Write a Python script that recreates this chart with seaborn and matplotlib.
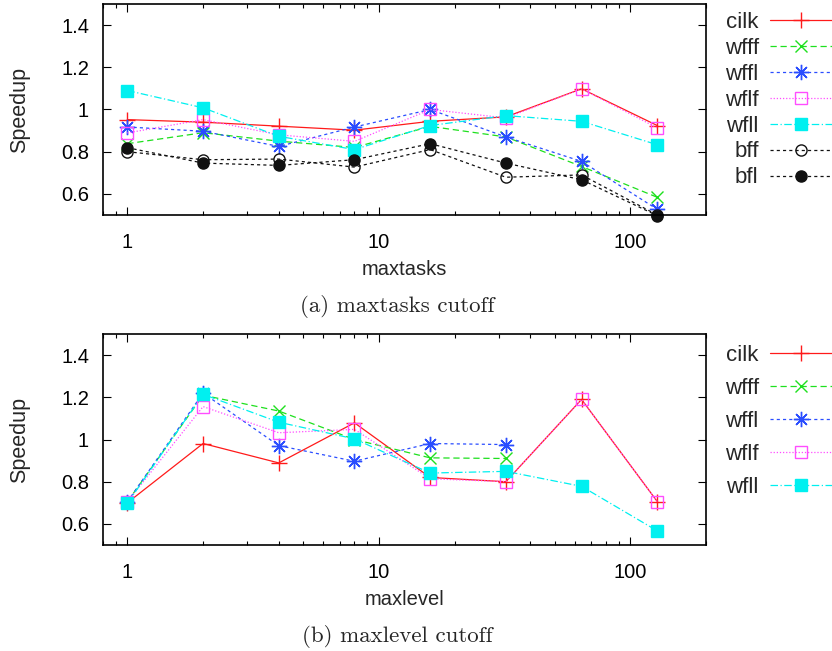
import numpy as np
import pandas as pd
import matplotlib
matplotlib.use("Agg")
import matplotlib.pyplot as plt
import seaborn as sns
from matplotlib.ticker import FixedLocator, LogLocator, NullFormatter

# ---------------- data ----------------
x_vals = [1, 2, 4, 8, 16, 32, 64, 128]

# (a) maxtasks cutoff
a_cilk = [0.952, 0.940, 0.921, 0.902, 0.944, 0.965, 1.098, 0.924]
a_wfff = [0.838, 0.890, 0.850, 0.820, 0.920, 0.870, 0.730, 0.584]
a_wffl = [0.917, 0.897, 0.825, 0.917, 1.000, 0.870, 0.754, 0.527]
a_wflf = [0.889, 0.952, 0.880, 0.849, 1.000, 0.960, 1.098, 0.913]
a_wfll = [1.090, 1.008, 0.873, 0.810, 0.924, 0.971, 0.944, 0.833]
a_bff = [0.800, 0.762, 0.765, 0.727, 0.810, 0.679, 0.690, 0.500]
a_bfl = [0.819, 0.746, 0.735, 0.762, 0.838, 0.746, 0.667, 0.497]

# (b) maxlevel cutoff (None = no measurement)
b_cilk = [0.700, 0.981, 0.889, 1.079, 0.820, 0.800, 1.190, 0.706]
b_wfff = [0.705, 1.210, 1.135, 1.000, 0.913, 0.910, None, None]
b_wffl = [0.705, 1.220, 0.971, 0.897, 0.981, 0.976, None, None]
b_wflf = [0.705, 1.156, 1.032, 1.048, 0.814, 0.800, 1.190, 0.706]
b_wfll = [0.698, 1.214, 1.082, 1.003, 0.841, 0.849, 0.778, 0.567]

y_ticks = [0.6, 0.8, 1.0, 1.2, 1.4]
y_tick_labels = ["0.6", "0.8", "1", "1.2", "1.4"]
x_ticks = [1, 10, 100]
x_tick_labels = ["1", "10", "100"]

# ---------------- styles ----------------
STYLES = {
    "cilk": dict(color="#ff1a1a", marker="+", ls="-", mfc="none", ms=11),
    "wfff": dict(color="#1ee01e", marker="x", ls=(0, (5, 3)), mfc="none", ms=9),
    "wffl": dict(color="#2a4dff", marker=(8, 2, 0), ls=(0, (2.5, 2.5)), mfc="none", ms=11),
    "wflf": dict(color="#ff4dff", marker="s", ls=(0, (1, 1.5)), mfc="none", ms=9),
    "wfll": dict(color="#00f0f0", marker="s", ls=(0, (6, 2, 1, 2)), mfc="#00f0f0", ms=9),
    "bff": dict(color="#111111", marker="o", ls=(0, (2.5, 2.5)), mfc="none", ms=8),
    "bfl": dict(color="#111111", marker="o", ls=(0, (2.5, 2.5)), mfc="#111111", ms=8),
}

FS = 14.5
LEG_FS = 16
SANS = ["Liberation Sans", "DejaVu Sans"]

sns.set_theme(style="white")
plt.rcParams["font.family"] = SANS
plt.rcParams["font.size"] = FS

W, H = 832, 651
fig = plt.figure(figsize=(W / 100, H / 100), dpi=100)


def px_axes(left, top, right, bottom):
    return fig.add_axes([left / W, 1 - bottom / H, (right - left) / W, (bottom - top) / H])


def draw_panel(ax, series, xlabel, legend_spacing, legend_top):
    for name, vals in series:
        st = STYLES[name]
        pts = [(x, v) for x, v in zip(x_vals, vals) if v is not None]
        df = pd.DataFrame(pts, columns=["x", "y"])
        sns.lineplot(data=df, x="x", y="y", ax=ax, label=name,
                     color=st["color"], linestyle=st["ls"], linewidth=0.9,
                     marker=st["marker"], markersize=st["ms"],
                     markerfacecolor=st["mfc"], markeredgecolor=st["color"],
                     markeredgewidth=1.0, clip_on=False, errorbar=None)
    ax.set_xscale("log")
    ax.set_xlim(0.8, 200)
    ax.set_ylim(0.5, 1.5)
    ax.xaxis.set_major_locator(FixedLocator(x_ticks))
    ax.set_xticklabels(x_tick_labels)
    ax.xaxis.set_minor_locator(LogLocator(base=10, subs=np.arange(2, 10)))
    ax.xaxis.set_minor_formatter(NullFormatter())
    ax.yaxis.set_major_locator(FixedLocator(y_ticks))
    ax.set_yticklabels(y_tick_labels)
    ax.tick_params(which="both", direction="in", top=True, right=True,
                   bottom=True, left=True, colors="black", labelsize=FS)
    ax.tick_params(which="major", length=6, width=0.8)
    ax.tick_params(which="minor", length=3, width=0.8)
    ax.tick_params(axis="y", pad=10)
    ax.tick_params(axis="x", pad=13)
    for sp in ax.spines.values():
        sp.set_color("black")
        sp.set_linewidth(1.2)
    ax.set_xlabel(xlabel, fontsize=FS, labelpad=6)
    ax.set_ylabel("Speedup", fontsize=15.5, labelpad=22)
    ax.grid(False)
    leg = ax.legend(loc="upper right", bbox_to_anchor=(1.0, legend_top),
                    bbox_transform=fig.transFigure, markerfirst=False,
                    frameon=False, fontsize=LEG_FS, handlelength=2.8,
                    handletextpad=0.5, labelspacing=legend_spacing,
                    borderpad=0, borderaxespad=0)
    return leg


ax1 = px_axes(103, 4, 706, 215)
draw_panel(ax1, [("cilk", a_cilk), ("wfff", a_wfff), ("wffl", a_wffl),
                 ("wflf", a_wflf), ("wfll", a_wfll), ("bff", a_bff),
                 ("bfl", a_bfl)],
           "maxtasks", 0.22, 1 - 12 / H)

ax2 = px_axes(103, 334, 706, 545)
draw_panel(ax2, [("cilk", b_cilk), ("wfff", b_wfff), ("wffl", b_wffl),
                 ("wflf", b_wflf), ("wfll", b_wfll)],
           "maxlevel", 0.54, 1 - 345 / H)

fig.text(397 / W, 1 - 307 / H, "(a) maxtasks cutoff", ha="center", va="center",
         fontsize=16.5, family=["cmr10", "DejaVu Serif"])
fig.text(397 / W, 1 - 637 / H, "(b) maxlevel cutoff", ha="center", va="center",
         fontsize=16.5, family=["cmr10", "DejaVu Serif"])

fig.savefig("out.png", dpi=100, facecolor="white")
